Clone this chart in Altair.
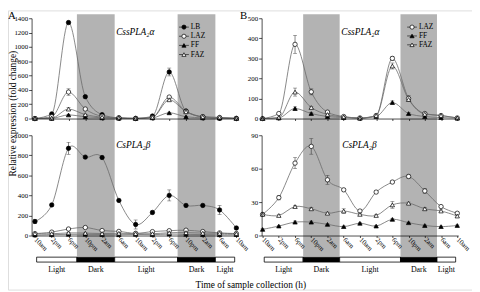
import json
import altair as alt
import pandas as pd

# ---------------- data ----------------
times = ["10am", "2pm", "6pm", "10pm", "2am", "6am", "10am",
         "2pm", "6pm", "10pm", "2am", "6am", "10am"]
series_A = ["LB", "LAZ", "FF", "FAZ"]
series_B = ["LAZ", "FF", "FAZ"]
gene_top = "CssPLA\u2082\u03b1"
gene_bot = "CsPLA\u2082\u03b2"

# CssPLA2alpha (upper panels)
alpha_LB = [0, 65, 1340, 305, 55, 8, 0, 35, 650, 105, 25, 5, 0]
alpha_LB_err = [0, 5, 20, 15, 5, 0, 0, 5, 55, 10, 5, 0, 0]
alpha_LAZ = [0, 25, 370, 133, 32, 10, 3, 15, 300, 100, 25, 15, 3]
alpha_LAZ_err = [0, 3, 45, 15, 5, 0, 0, 3, 10, 15, 3, 2, 0]
alpha_FF = [0, 3, 50, 25, 10, 5, 2, 10, 80, 25, 10, 5, 2]
alpha_FF_err = [0, 0, 8, 5, 2, 0, 0, 0, 8, 5, 0, 0, 0]
alpha_FAZ = [0, 5, 132, 55, 20, 8, 2, 15, 262, 95, 22, 15, 3]
alpha_FAZ_err = [0, 0, 20, 5, 3, 0, 0, 0, 15, 10, 3, 0, 0]

# CsPLA2beta (lower panels)
beta_LB = [140, 305, 870, 782, 778, 350, 110, 230, 400, 300, 300, 255, 75]
beta_LB_err = [20, 10, 60, 10, 10, 10, 45, 15, 55, 10, 10, 45, 10]
beta_LAZ = [19, 34, 65, 80, 50, 41, 22, 39, 48, 53, 40, 26, 20]
beta_LAZ_err = [1, 2, 5, 7, 4, 1, 1, 1, 1, 2, 2, 1, 1]
beta_FF = [5.5, 8.5, 12, 12, 10, 8, 11, 8.5, 14.5, 11.5, 9, 8, 9]
beta_FF_err = [0.5, 0.5, 1, 1, 0.5, 0.5, 0.5, 0.5, 1, 0.5, 0.5, 0.5, 0.5]
beta_FAZ = [19, 18, 26, 24, 20, 22, 19, 18, 27.5, 29, 24, 22, 17.5]
beta_FAZ_err = [1, 1, 1, 1, 1, 2, 1, 1, 3, 1, 1, 1, 1]

dark_start = [2.5, 8.5]
dark_end = [4.75, 10.75]
phase_names = ["Light", "Dark", "Light", "Dark", "Light"]
phase_start = [0.1, 2.5, 4.75, 8.5, 10.75]
phase_end = [2.5, 4.75, 8.5, 10.75, 11.9]

ticks_A_top = [0, 200, 400, 600, 800, 1000, 1200, 1400]
ticks_A_bot = [0, 200, 400, 600, 800, 1000]
ticks_B_top = [0, 100, 200, 300, 400, 500]
ticks_B_bot = [0, 30, 60, 90]

# ---------------- style ----------------
FONT = "Liberation Serif"
LINE_C = "#6a6a6a"
SHADE_C = "#b3b3b3"
W, H = 472, 284

MARKERS = {"LB": ("circle", "black"), "LAZ": ("circle", "white"),
           "FF": ("triangle-up", "black"), "FAZ": ("triangle-up", "white")}
LABEL_EXPR = json.dumps(times) + "[datum.value]"


def make_df(names, vals, errs):
    rows = []
    for n in names:
        for i, (v, e) in enumerate(zip(vals[n], errs[n])):
            rows.append({"series": n, "t": i, "v": v, "lo": v - e, "hi": v + e, "e": e})
    return pd.DataFrame(rows)


alpha_vals = {"LB": alpha_LB, "LAZ": alpha_LAZ, "FF": alpha_FF, "FAZ": alpha_FAZ}
alpha_errs = {"LB": alpha_LB_err, "LAZ": alpha_LAZ_err, "FF": alpha_FF_err, "FAZ": alpha_FAZ_err}
beta_vals = {"LB": beta_LB, "LAZ": beta_LAZ, "FF": beta_FF, "FAZ": beta_FAZ}
beta_errs = {"LB": beta_LB_err, "LAZ": beta_LAZ_err, "FF": beta_FF_err, "FAZ": beta_FAZ_err}


def subplot(df, names, xdom, xrng, ydom, yrng, yticks, y_off, x_off, show_labels, interp):
    xs = alt.Scale(domain=xdom, range=xrng, nice=False, zero=False)
    ys = alt.Scale(domain=ydom, range=yrng, nice=False, zero=False)
    common = dict(orient="bottom", offset=x_off, values=list(range(13)), tickSize=2,
                  tickColor="black", tickWidth=0.7, domainColor="black", domainWidth=0.7,
                  grid=False, title=None, zindex=1)
    if show_labels:
        xaxis = alt.Axis(labelExpr=LABEL_EXPR, labelAngle=45, labelAlign="left",
                         labelBaseline="middle", labelPadding=1, labelFont=FONT,
                         labelFontSize=7, labelColor="black", labelOverlap=False,
                         labelFlush=False, **common)
    else:
        xaxis = alt.Axis(labels=False, **common)
    yaxis = alt.Axis(orient="left", offset=y_off, values=yticks, format="d", tickSize=3,
                     tickColor="black", tickWidth=0.7, domainColor="black", domainWidth=0.7,
                     labelPadding=1, labelFont=FONT, labelFontSize=7, labelColor="black",
                     labelOverlap=False, grid=False, title=None, zindex=1)

    def X(axis=None):
        return alt.X("t:Q", scale=xs, axis=axis)

    base = alt.Chart(df)
    lines = base.mark_line(interpolate=interp, color=LINE_C, strokeWidth=0.8).encode(
        x=X(xaxis), y=alt.Y("v:Q", scale=ys, axis=yaxis), detail="series:N")
    eb = base.transform_filter("datum.e > 0")
    err = eb.mark_rule(color="#333333", strokeWidth=0.6).encode(
        x=X(), y=alt.Y("lo:Q", scale=ys, axis=None), y2="hi:Q")
    cap_lo = eb.mark_tick(orient="horizontal", size=4, thickness=0.6, color="#333333").encode(
        x=X(), y=alt.Y("lo:Q", scale=ys, axis=None))
    cap_hi = eb.mark_tick(orient="horizontal", size=4, thickness=0.6, color="#333333").encode(
        x=X(), y=alt.Y("hi:Q", scale=ys, axis=None))
    pts = []
    for n in names:
        shape, fill = MARKERS[n]
        pts.append(base.transform_filter(f"datum.series == '{n}'").mark_point(
            shape=shape, filled=True, fill=fill, stroke="black", strokeWidth=0.7,
            size=20, opacity=1).encode(x=X(), y=alt.Y("v:Q", scale=ys, axis=None)))
    return [lines, err, cap_lo, cap_hi] + pts


def panel_extras(xdom, xrng):
    xs = alt.Scale(domain=xdom, range=xrng, nice=False, zero=False)
    shade_df = pd.DataFrame({"start": dark_start, "end": dark_end})
    shade = alt.Chart(shade_df).mark_rect(color=SHADE_C).encode(
        x=alt.X("start:Q", scale=xs, axis=None), x2="end:Q",
        y=alt.value(4), y2=alt.value(250))
    ph = pd.DataFrame({"phase": phase_names, "start": phase_start, "end": phase_end})
    bar = alt.Chart(ph).mark_rect(stroke="black", strokeWidth=0.8).encode(
        x=alt.X("start:Q", scale=xs, axis=None), x2="end:Q",
        y=alt.value(251), y2=alt.value(256),
        fill=alt.condition("datum.phase == 'Dark'", alt.value("black"), alt.value("white")))
    lab = alt.Chart(ph).transform_calculate(mid="(datum.start + datum.end) / 2").mark_text(
        font=FONT, fontSize=8, baseline="middle", color="black").encode(
        x=alt.X("mid:Q", scale=xs, axis=None), y=alt.value(264), text="phase:N")
    return [shade], [bar, lab]


def legend_layers(names, x_sym, x_text, y0, step):
    df = pd.DataFrame({"series": names})
    ys = alt.Scale(type="point", domain=names, range=[y0, y0 + step * (len(names) - 1)], padding=0)
    Y = alt.Y("series:N", scale=ys, axis=None)
    stub = alt.Chart(df).mark_rule(color="#333333", strokeWidth=0.8).encode(
        x=alt.value(x_sym - 5), x2=alt.value(x_sym + 5), y=Y)
    out = [stub]
    for n in names:
        shape, fill = MARKERS[n]
        out.append(alt.Chart(df).transform_filter(f"datum.series == '{n}'").mark_point(
            shape=shape, filled=True, fill=fill, stroke="black", strokeWidth=0.7,
            size=18, opacity=1).encode(x=alt.value(x_sym), y=Y))
    out.append(alt.Chart(df).mark_text(font=FONT, fontSize=7.5, align="left", baseline="middle",
                                       color="black").encode(x=alt.value(x_text), y=Y,
                                                             text="series:N"))
    return out


def text(label, x, y, **kw):
    return alt.Chart(pd.DataFrame({"s": [label]})).mark_text(font=FONT, color="black", **kw).encode(
        text="s:N", x=alt.value(x), y=alt.value(y))


XA_DOM, XA_RNG = [-0.2, 12.1], [24, 234]
XB_DOM, XB_RNG = [-0.06, 12.06], [258, 458]
TOP_RNG, BOT_RNG = [110, 8], [229, 127]

dfA_top = make_df(series_A, alpha_vals, alpha_errs)
dfA_bot = make_df(series_A, beta_vals, beta_errs)
dfB_top = make_df(series_B, alpha_vals, alpha_errs)
dfB_bot = make_df(series_B, beta_vals, beta_errs)

shadeA, barA = panel_extras(XA_DOM, XA_RNG)
shadeB, barB = panel_extras(XB_DOM, XB_RNG)
legA = legend_layers(series_A, 179, 186, 17, 9.3)
legB = legend_layers(series_B, 411, 418, 17, 9.0)

topA = subplot(dfA_top, series_A, XA_DOM, XA_RNG, [0, 1400], TOP_RNG, ticks_A_top, -24, 110 - H, False, "monotone")
botA = subplot(dfA_bot, series_A, XA_DOM, XA_RNG, [0, 1000], BOT_RNG, ticks_A_bot, -24, 229 - H, True, "cardinal")
topB = subplot(dfB_top, series_B, XB_DOM, XB_RNG, [0, 500], TOP_RNG, ticks_B_top, -258, 110 - H, False, "monotone")
botB = subplot(dfB_bot, series_B, XB_DOM, XB_RNG, [0, 90], BOT_RNG, ticks_B_bot, -258, 229 - H, True, "cardinal")

texts = [
    text("A", 0, 0, fontSize=11, align="left", baseline="top"),
    text("B", 236, 0, fontSize=11, align="left", baseline="top"),
    text(gene_top, 110, 22, fontSize=9.5, fontStyle="italic", align="left", baseline="middle"),
    text(gene_bot, 110, 137, fontSize=9.5, fontStyle="italic", align="left", baseline="middle"),
    text(gene_top, 339, 22, fontSize=9.5, fontStyle="italic", align="left", baseline="middle"),
    text(gene_bot, 340, 137, fontSize=9.5, fontStyle="italic", align="left", baseline="middle"),
    text("Relative expression (fold change)", 0, 105, fontSize=9.5, angle=270,
         align="center", baseline="top"),
    text("Time of sample collection (h)", 247, 279, fontSize=9.5, align="center", baseline="middle"),
]

chart = alt.layer(
    *shadeA, *shadeB, *barA, *barB,
    *topA, *botA, *topB, *botB, *legA, *legB, *texts
).resolve_scale(
    x="independent", y="independent"
).properties(
    width=W, height=H, padding=0, autosize=alt.AutoSizeParams(type="none")
).configure_view(stroke="transparent").configure(background="white")

chart.save("out.html", embed_options={"renderer": "svg", "actions": False})
